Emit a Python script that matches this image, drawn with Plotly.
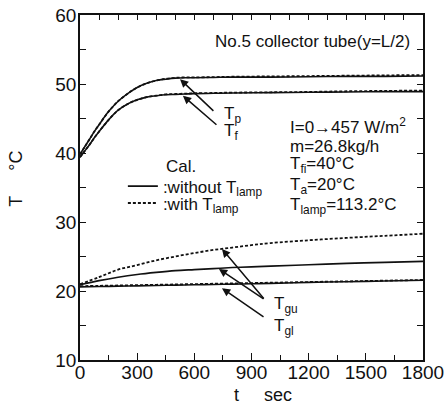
import plotly.graph_objects as go

# ---------------- data ----------------
t_fluid = [0, 25, 50, 75, 100, 150, 200, 250, 300, 350, 400, 450, 500, 550, 600,
           700, 800, 1000, 1200, 1400, 1600, 1800]
tp_without = [39.8, 40.9, 42.0, 43.1, 44.1, 46.0, 47.5, 48.6, 49.5, 50.1, 50.5, 50.7,
              50.85, 50.9, 50.9, 50.95, 51.0, 51.0, 51.05, 51.1, 51.1, 51.15]
tp_with = [39.8, 40.9, 42.0, 43.1, 44.1, 46.0, 47.5, 48.6, 49.5, 50.1, 50.5, 50.75,
           50.9, 50.95, 50.95, 51.0, 51.05, 51.1, 51.15, 51.2, 51.25, 51.3]
tf_without = [39.4, 40.3, 41.2, 42.2, 43.1, 44.8, 46.2, 47.1, 47.7, 48.1, 48.3, 48.45,
              48.5, 48.55, 48.6, 48.65, 48.7, 48.75, 48.8, 48.85, 48.9, 48.9]
tf_with = [39.4, 40.3, 41.2, 42.2, 43.1, 44.8, 46.2, 47.1, 47.7, 48.1, 48.3, 48.5,
           48.55, 48.6, 48.65, 48.7, 48.75, 48.8, 48.85, 48.95, 49.0, 49.05]

t_glass = [0, 100, 200, 300, 400, 500, 600, 700, 800, 900, 1000, 1200, 1400, 1600, 1800]
tgu_with = [21.0, 22.0, 23.1, 23.75, 24.45, 25.0, 25.5, 25.95, 26.3, 26.65, 26.95,
            27.35, 27.7, 28.0, 28.3]
tgu_without = [20.9, 21.5, 22.0, 22.4, 22.7, 22.95, 23.1, 23.25, 23.4, 23.5, 23.6,
               23.8, 24.0, 24.15, 24.3]
tgl_without = [20.6, 20.65, 20.7, 20.75, 20.8, 20.85, 20.9, 20.95, 21.0, 21.05, 21.1,
               21.25, 21.35, 21.45, 21.55]
tgl_with = [20.7, 20.75, 20.8, 20.85, 20.9, 20.95, 21.0, 21.05, 21.1, 21.15, 21.2,
            21.3, 21.4, 21.5, 21.6]

x_ticks = [0, 300, 600, 900, 1200, 1500, 1800]
y_ticks = [10, 20, 30, 40, 50, 60]

FONT = "Liberation Sans, Arial, Helvetica, sans-serif"
BLACK = "#111111"
DOT = "3px,2px"

fig = go.Figure()

solid = dict(color=BLACK, width=1.6)
dotted = dict(color=BLACK, width=1.8, dash=DOT)

fig.add_trace(go.Scatter(x=t_fluid, y=tp_without, mode="lines", line=solid,
                         name=":without T<sub>lamp</sub>", legendgroup="wo",
                         showlegend=True, legend="legend", line_shape="spline"))
fig.add_trace(go.Scatter(x=t_fluid, y=tf_without, mode="lines", line=solid,
                         legendgroup="wo", showlegend=False, line_shape="spline"))
fig.add_trace(go.Scatter(x=t_glass, y=tgu_without, mode="lines", line=solid,
                         legendgroup="wo", showlegend=False, line_shape="spline"))
fig.add_trace(go.Scatter(x=t_glass, y=tgl_without, mode="lines", line=solid,
                         legendgroup="wo", showlegend=False, line_shape="spline"))

fig.add_trace(go.Scatter(x=t_glass, y=tgu_with, mode="lines", line=dotted,
                         name=":with T<sub>lamp</sub>", legendgroup="w",
                         showlegend=True, legend="legend2", line_shape="spline"))
fig.add_trace(go.Scatter(x=t_fluid, y=tp_with, mode="lines", line=dotted,
                         legendgroup="w", showlegend=False, line_shape="spline"))
fig.add_trace(go.Scatter(x=t_fluid, y=tf_with, mode="lines", line=dotted,
                         legendgroup="w", showlegend=False, line_shape="spline"))
fig.add_trace(go.Scatter(x=t_glass, y=tgl_with, mode="lines", line=dotted,
                         legendgroup="w", showlegend=False, line_shape="spline"))

# empty trace so that the top axis (minor ticks every 100 s) is drawn
fig.add_trace(go.Scatter(x=[None], y=[None], xaxis="x2", showlegend=False,
                         hoverinfo="skip"))

annotations = []

def txt(x, y, s, xanchor="left", size=17):
    annotations.append(dict(x=x, y=y, xref="x", yref="y", text=s, showarrow=False,
                            xanchor=xanchor, yanchor="middle",
                            font=dict(family=FONT, size=size, color=BLACK)))

def arrow(x_head, y_head, x_tail, y_tail):
    annotations.append(dict(x=x_head, y=y_head, ax=x_tail, ay=y_tail, xref="x", yref="y",
                            axref="x", ayref="y", text="", showarrow=True,
                            arrowhead=2, arrowsize=1.1, arrowwidth=1.5, arrowcolor=BLACK))

txt(1742, 56.1, "No.5 collector tube(y=L/2)", xanchor="right")
txt(1092, 43.9, "I=0\u2192457 W/m<sup>2</sup>")
txt(1092, 41.0, "m=26.8kg/h")
txt(1092, 38.2, "T<sub>fi</sub>=40\u00b0C")
txt(1092, 35.2, "T<sub>a</sub>=20\u00b0C")
txt(1092, 32.3, "T<sub>lamp</sub>=113.2\u00b0C")
txt(440, 38.0, "Cal.")

txt(745, 45.5, "T<sub>p</sub>")
txt(745, 43.0, "T<sub>f</sub>")
txt(1005, 17.9, "T<sub>gu</sub>")
txt(1005, 14.8, "T<sub>gl</sub>")

arrow(525, 50.7, 708, 45.9)
arrow(540, 48.3, 724, 43.9)
arrow(745, 26.1, 971, 18.7)
arrow(729, 23.2, 971, 18.7)
arrow(745, 20.4, 971, 16.1)

# axis titles
annotations.append(dict(x=-0.187, y=0.525, xref="paper", yref="paper",
                        text="T\u00a0\u00a0\u00a0\u00a0\u00a0\u00b0C", textangle=-90,
                        showarrow=False, xanchor="center", yanchor="middle",
                        font=dict(family=FONT, size=18, color=BLACK)))
annotations.append(dict(x=0.533, y=-0.101, xref="paper", yref="paper",
                        text="t\u00a0\u00a0\u00a0\u00a0\u00a0sec",
                        showarrow=False, xanchor="center", yanchor="middle",
                        font=dict(family=FONT, size=18, color=BLACK)))

axis_common = dict(showgrid=False, zeroline=False, showline=True, linecolor=BLACK,
                   linewidth=1.5, ticks="inside", tickcolor=BLACK, tickwidth=1.3,
                   automargin=False,
                   tickfont=dict(family=FONT, size=19, color=BLACK))

legend_common = dict(xanchor="left", yanchor="top", bgcolor="rgba(0,0,0,0)",
                     borderwidth=0, font=dict(family=FONT, size=17, color=BLACK),
                     tracegroupgap=0, itemwidth=30)

fig.update_layout(
    width=447, height=405,
    margin=dict(l=80, r=24, t=15, b=45, autoexpand=False),
    paper_bgcolor="white", plot_bgcolor="white",
    font=dict(family=FONT, color=BLACK),
    showlegend=True,
    legend=dict(x=0.125, y=0.555, **legend_common),
    legend2=dict(x=0.125, y=0.506, **legend_common),
    xaxis=dict(range=[0, 1800], tickvals=x_ticks, ticklen=7, ticklabelstandoff=-6,
               minor=dict(dtick=150, ticklen=5, ticks="inside", tickcolor=BLACK,
                          tickwidth=1.3),
               mirror=False, **axis_common),
    xaxis2=dict(range=[0, 1800], overlaying="x", side="top", anchor="y",
                dtick=100, ticklen=5, showticklabels=False, ticks="inside",
                showline=True, linecolor=BLACK, linewidth=1.5, tickcolor=BLACK,
                tickwidth=1.3, showgrid=False, zeroline=False, automargin=False),
    yaxis=dict(range=[10, 60], tickvals=y_ticks, ticklen=6, ticklabelstandoff=-2,
               minor=dict(dtick=5, ticklen=6, ticks="inside", tickcolor=BLACK,
                          tickwidth=1.3),
               mirror="ticks", **axis_common),
    annotations=annotations,
)

fig.write_html("out.html", config={"displayModeBar": False},
               post_script="document.body.style.margin='0';document.body.style.overflow='hidden';")
